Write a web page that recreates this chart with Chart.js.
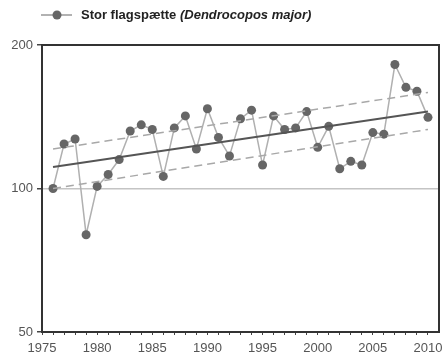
<!DOCTYPE html>
<html>
<head>
<meta charset="utf-8">
<script src="https://cdn.jsdelivr.net/npm/chart.js@4"></script>
<style>
  html, body { margin: 0; padding: 0; background: #fff; }
  #wrap { width: 444px; height: 360px; }
</style>
</head>
<body>
<div id="wrap"><canvas id="chart" width="444" height="360"></canvas></div>
<script>
// Index values
const years = [1976, 1977, 1978, 1979, 1980, 1981, 1982, 1983, 1984, 1985, 1986, 1987,
  1988, 1989, 1990, 1991, 1992, 1993, 1994, 1995, 1996, 1997, 1998, 1999, 2000, 2001,
  2002, 2003, 2004, 2005, 2006, 2007, 2008, 2009, 2010];
const index = [100, 124, 127, 80, 101, 107, 115, 132, 136, 133, 106, 134,
  142, 121, 147, 128, 117, 140, 146, 112, 142, 133, 134, 145, 122, 135,
  110, 114, 112, 131, 130, 182, 163, 160, 141];

// trend line and its confidence limits (ends only)
const trendYears = [1976, 2010];
const trend = [111, 145];
const upperLimit = [121, 159];
const lowerLimit = [100, 133];

const xTicks = [1975, 1980, 1985, 1990, 1995, 2000, 2005, 2010];
const yTicks = [50, 100, 200];
const seriesLabel = 'Stor flagspætte';
const latinName = '(Dendrocopos major)';

const FONT = '"Liberation Sans", Arial, sans-serif';

function pairs(xs, ys) {
    return xs.map((x, i) => ({ x: x, y: ys[i] }));
}

// legend: line with a dot, then the bold label with the latin name in italics
const legendPlugin = {
    id: 'legendLine',
    afterDraw(chart) {
        const ctx = chart.ctx;
        ctx.save();
        ctx.strokeStyle = '#999';
        ctx.lineWidth = 1.5;
        ctx.beginPath();
        ctx.moveTo(41, 15);
        ctx.lineTo(72, 15);
        ctx.stroke();
        ctx.fillStyle = '#666';
        ctx.beginPath();
        ctx.arc(57, 15, 4.5, 0, Math.PI * 2);
        ctx.fill();
        ctx.fillStyle = '#222';
        ctx.textBaseline = 'middle';
        ctx.font = 'bold 13px ' + FONT;
        ctx.fillText(seriesLabel + ' ', 81, 15);
        const w = ctx.measureText(seriesLabel + ' ').width;
        ctx.font = 'italic bold 13px ' + FONT;
        ctx.fillText(latinName, 81 + w, 15);
        ctx.restore();
    }
};

// dark frame round the plot area
const framePlugin = {
    id: 'frame',
    afterDatasetsDraw(chart) {
        const a = chart.chartArea;
        const ctx = chart.ctx;
        ctx.save();
        ctx.strokeStyle = '#333';
        ctx.lineWidth = 2;
        ctx.strokeRect(a.left, a.top, a.right - a.left, a.bottom - a.top);
        ctx.restore();
    }
};

new Chart(document.getElementById('chart'), {
    type: 'scatter',
    data: {
        datasets: [
            {
                label: 'upper',
                data: pairs(trendYears, upperLimit),
                showLine: true,
                borderColor: '#a8a8a8',
                borderWidth: 1.5,
                borderDash: [8, 5],
                pointRadius: 0
            },
            {
                label: 'lower',
                data: pairs(trendYears, lowerLimit),
                showLine: true,
                borderColor: '#a8a8a8',
                borderWidth: 1.5,
                borderDash: [8, 5],
                pointRadius: 0
            },
            {
                label: 'trend',
                data: pairs(trendYears, trend),
                showLine: true,
                borderColor: '#555',
                borderWidth: 2,
                pointRadius: 0
            },
            {
                label: seriesLabel,
                data: pairs(years, index),
                showLine: true,
                borderColor: '#b0b0b0',
                borderWidth: 1.5,
                pointRadius: 4.5,
                pointBackgroundColor: '#666',
                pointBorderColor: '#666',
                pointBorderWidth: 0
            }
        ]
    },
    options: {
        responsive: false,
        animation: false,
        layout: { padding: { top: 45, right: 5, left: 0, bottom: 0 } },
        plugins: {
            legend: { display: false },
            tooltip: { enabled: false }
        },
        scales: {
            x: {
                type: 'linear',
                min: 1975,
                max: 2011,
                afterBuildTicks: (scale) => {
                    const t = [];
                    for (let y = 1975; y <= 2010; y++) t.push({ value: y });
                    scale.ticks = t;
                },
                afterFit: (scale) => {
                    scale.height = 28;
                    scale.paddingLeft = 0;
                    scale.paddingRight = 0;
                },
                ticks: {
                    autoSkip: false,
                    maxRotation: 0,
                    padding: 6,
                    color: '#555',
                    font: { family: FONT, size: 13 },
                    callback: (v) => (xTicks.includes(v) ? String(v) : '')
                },
                grid: {
                    drawOnChartArea: false,
                    tickLength: 3,
                    color: '#444'
                },
                border: { display: false }
            },
            y: {
                type: 'logarithmic',
                min: 50,
                max: 200,
                afterBuildTicks: (scale) => {
                    scale.ticks = yTicks.map((v) => ({ value: v }));
                },
                afterFit: (scale) => { scale.width = 42; },
                ticks: {
                    padding: 4,
                    color: '#555',
                    font: { family: FONT, size: 13 },
                    callback: (v) => String(v)
                },
                grid: {
                    tickLength: 5,
                    color: (c) => (c.tick && c.tick.value === 100 ? '#c4c4c4' : 'rgba(0,0,0,0)'),
                    tickColor: '#444',
                    lineWidth: 1.5
                },
                border: { display: false }
            }
        }
    },
    plugins: [legendPlugin, framePlugin]
});
</script>
</body>
</html>
